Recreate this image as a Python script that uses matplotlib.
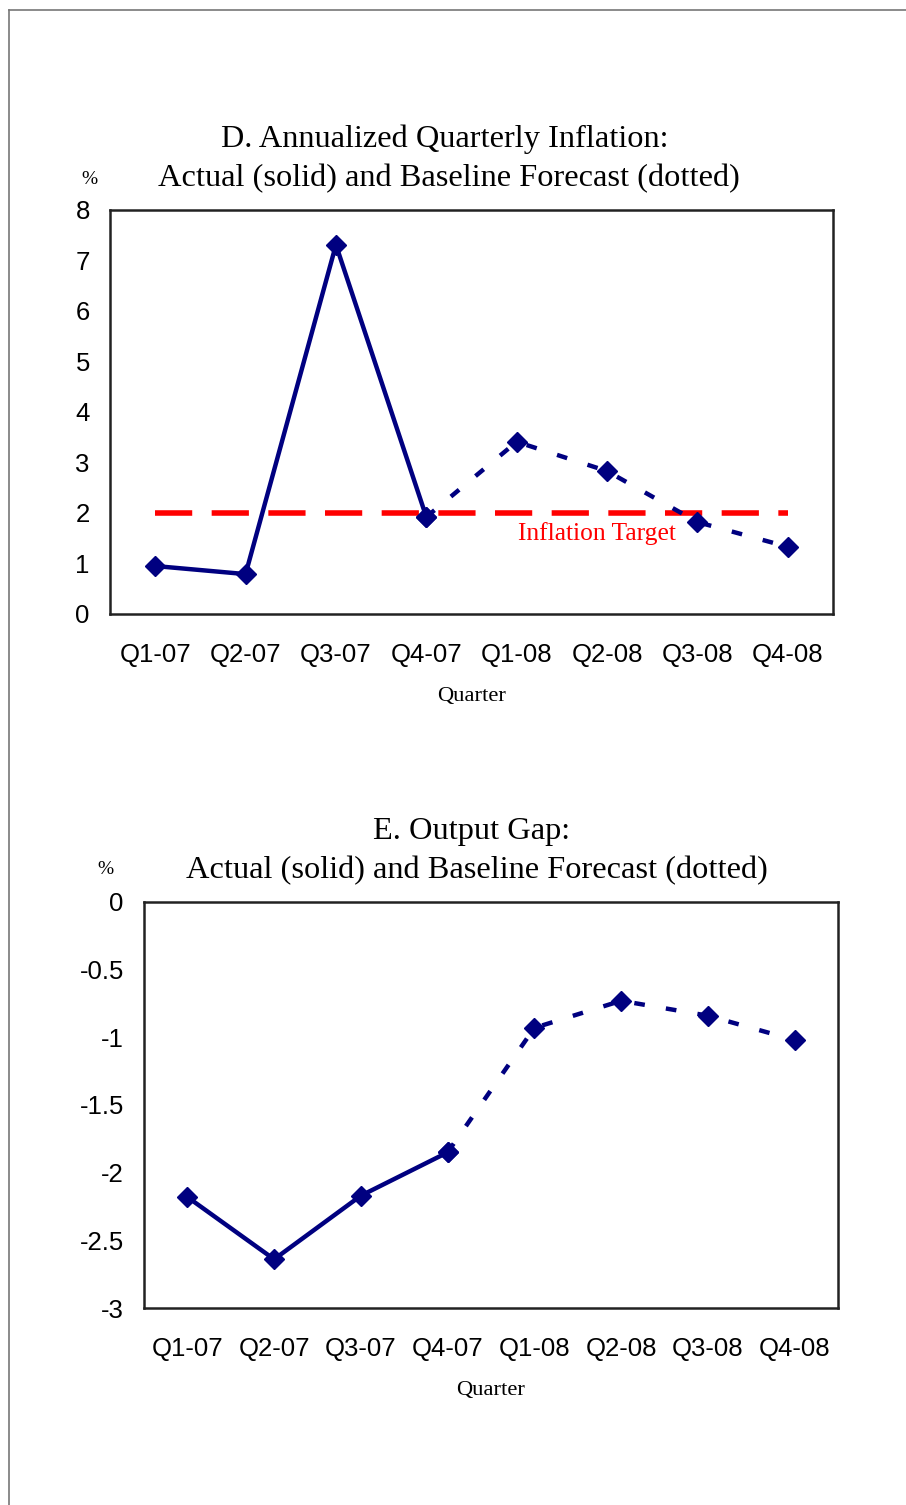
import matplotlib.pyplot as plt
from matplotlib.lines import Line2D

quarters = ["Q1-07", "Q2-07", "Q3-07", "Q4-07", "Q1-08", "Q2-08", "Q3-08", "Q4-08"]

# inflation (%), actual to Q4-07 then baseline forecast
inflation_actual = [0.95, 0.79, 7.31, 1.92]
inflation_forecast = [1.92, 3.41, 2.83, 1.82, 1.33]
inflation_target = 2.0

# output gap (%)
gap_actual = [-2.18, -2.64, -2.17, -1.85]
gap_forecast = [-1.85, -0.93, -0.73, -0.84, -1.02]

inflation_ticks = [0, 1, 2, 3, 4, 5, 6, 7, 8]
gap_ticks = [0, -0.5, -1, -1.5, -2, -2.5, -3]
gap_ticklabels = ["0", "-0.5", "-1", "-1.5", "-2", "-2.5", "-3"]

NAVY = "#000080"
SERIF = "Liberation Serif"
SANS = "Liberation Sans"

W, H = 906, 1505
fig = plt.figure(figsize=(W / 100, H / 100), dpi=100)


def px_axes(left, top, right, bottom):
    return fig.add_axes([left / W, 1 - bottom / H, (right - left) / W, (bottom - top) / H])


def draw_series(ax, actual, forecast):
    xa = [i + 0.5 for i in range(len(actual))]
    start = len(actual) - 1
    xf = [start + i + 0.5 for i in range(len(forecast))]
    ax.plot(xf, forecast, color=NAVY, lw=3.2, dashes=(2.4, 4.8), marker="D", markersize=10,
            dash_capstyle="butt")
    ax.plot(xa, actual, color=NAVY, lw=3.2, marker="D", markersize=10)


def style_axes(ax):
    ax.set_xlim(0, len(quarters))
    ax.set_xticks([i + 0.5 for i in range(len(quarters))])
    ax.set_xticklabels(quarters, fontfamily=SANS, fontsize=18.5)
    ax.tick_params(length=0, pad=21)
    ax.tick_params(axis="y", pad=14.5)
    for lab in ax.get_yticklabels():
        lab.set_fontfamily(SANS)
        lab.set_fontsize(18.5)
    for sp in ax.spines.values():
        sp.set_linewidth(1.8)
        sp.set_color("#222222")


# --- D. inflation ---
ax1 = px_axes(110, 210, 833, 614)
ax1.plot([0.5, len(quarters) - 0.5], [inflation_target] * 2, color="red", lw=4,
         dashes=(6.7, 3.5), dash_capstyle="butt")
draw_series(ax1, inflation_actual, inflation_forecast)
ax1.set_ylim(0, 8)
ax1.set_yticks(inflation_ticks)
ax1.set_yticklabels([str(t) for t in inflation_ticks])
style_axes(ax1)
ax1.text(5.39, inflation_target - 0.18, "Inflation Target", color="red", fontfamily=SERIF,
         fontsize=18.4, ha="center", va="top")

fig.text(445 / W, 1 - 139 / H, "D. Annualized Quarterly Inflation:", fontfamily=SERIF,
         fontsize=23.3, ha="center", va="center")
fig.text(449 / W, 1 - 179 / H, "Actual (solid) and Baseline Forecast (dotted)", fontfamily=SERIF,
         fontsize=23.3, ha="center", va="center")
fig.text(89 / W, 1 - 180 / H, "%", fontfamily=SERIF, fontsize=14, ha="center", va="center")
fig.text(472 / W, 1 - 696 / H, "Quarter", fontfamily=SERIF, fontsize=16.2, ha="center", va="center")

# --- E. output gap ---
ax2 = px_axes(144, 902, 838, 1308)
draw_series(ax2, gap_actual, gap_forecast)
ax2.set_ylim(-3, 0)
ax2.set_yticks(gap_ticks)
ax2.set_yticklabels(gap_ticklabels)
style_axes(ax2)

fig.text(472 / W, 1 - 831 / H, "E. Output Gap:", fontfamily=SERIF,
         fontsize=23.3, ha="center", va="center")
fig.text(477 / W, 1 - 871 / H, "Actual (solid) and Baseline Forecast (dotted)", fontfamily=SERIF,
         fontsize=23.3, ha="center", va="center")
fig.text(105 / W, 1 - 870 / H, "%", fontfamily=SERIF, fontsize=14, ha="center", va="center")
fig.text(491 / W, 1 - 1390 / H, "Quarter", fontfamily=SERIF, fontsize=16.2, ha="center", va="center")

# page border (top and left)
fig.add_artist(Line2D([8.5 / W, 1], [1 - 9.5 / H, 1 - 9.5 / H], transform=fig.transFigure,
                      color="#777777", lw=1.2))
fig.add_artist(Line2D([8.5 / W, 8.5 / W], [0, 1 - 9.5 / H], transform=fig.transFigure,
                      color="#777777", lw=1.2))

fig.savefig("out.png", dpi=100)
